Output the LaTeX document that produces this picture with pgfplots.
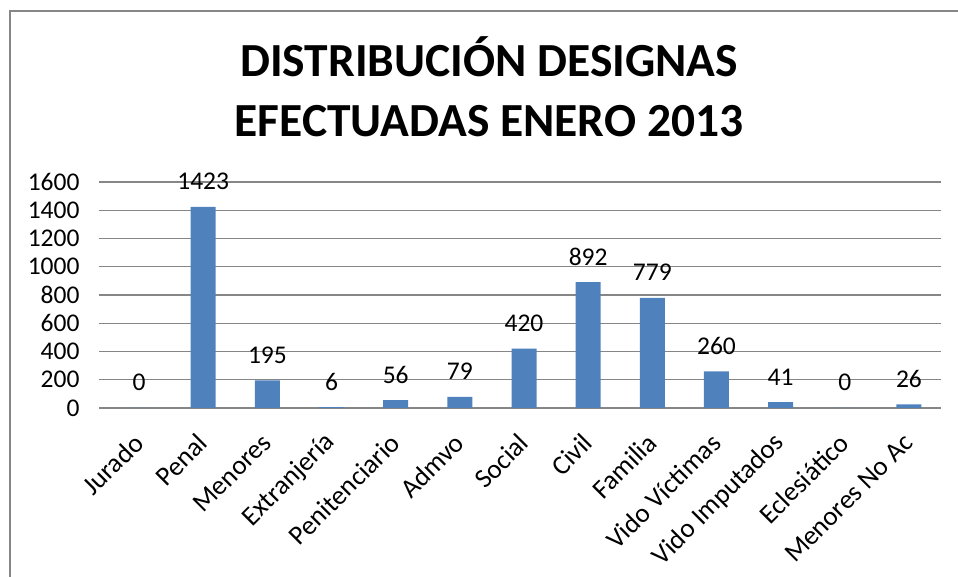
\documentclass[border=0pt]{standalone}
\usepackage{pgfplots}
\pgfplotsset{compat=1.18}
\usepackage{fontspec}
\setmainfont{Carlito}
\definecolor{barblue}{HTML}{4F81BD}
\definecolor{axgray}{HTML}{868686}
\newcommand{\lblfont}{\fontsize{25.5}{30}\selectfont}
\begin{document}
\begin{tikzpicture}[x=1pt,y=1pt]
\useasboundingbox (0,0) rectangle (958,577);
\draw[axgray, line width=1.3pt] (10,-20) -- (10,566) -- (980,566);
\node[font=\fontsize{47.5}{56}\selectfont\bfseries, anchor=base, inner sep=0pt] at (489,500) {DISTRIBUCIÓN DESIGNAS};
\node[font=\fontsize{47.5}{56}\selectfont\bfseries, anchor=base, inner sep=0pt] at (489,440) {EFECTUADAS ENERO 2013};
\begin{axis}[
  at={(107pt,169pt)}, anchor=south west,
  scale only axis, width=834pt, height=226pt,
  ybar, bar width=25pt,
  xmin=-0.5, xmax=12.5, ymin=0, ymax=1600,
  ytick={0,200,...,1600},
  xtick={0,...,12},
  xticklabels={Jurado, Penal, Menores, Extranjería, Penitenciario, Admvo, Social, Civil, Familia, Vido Víctimas, Vido Imputados, Eclesiático, Menores No Ac},
  major x tick style={draw=none},
  extra x ticks={-0.5,0.5,...,12.5},
  extra x tick labels={},
  extra x tick style={grid=none, tick style={axgray, line width=1.3pt}},
  axis x line*=bottom, axis y line*=left,
  y axis line style={draw=none},
  x axis line style={axgray, line width=1.3pt, -},
  ymajorgrids, grid style={axgray, line width=1.3pt},
  y tick style={axgray, line width=1.3pt},
  tick align=outside, major tick length=8pt,
  ticklabel style={font=\lblfont, text=black},
  xticklabel style={font=\fontsize{27}{32}\selectfont, xshift=2pt, yshift=-20pt, rotate=45, anchor=east},
  yticklabel style={xshift=-16pt},
  /pgf/number format/assume math mode=true,
  /pgf/number format/1000 sep={},
  nodes near coords,
  nodes near coords style={font=\lblfont, anchor=base, inner sep=0pt, yshift=17pt, text=black},
  clip=false,
]
\addplot[fill=barblue, draw=none] coordinates {
  (0,0) (1,1423) (2,195) (3,6) (4,56) (5,79) (6,420)
  (7,892) (8,779) (9,260) (10,41) (11,0) (12,26)
};
\end{axis}
\end{tikzpicture}
\end{document}
